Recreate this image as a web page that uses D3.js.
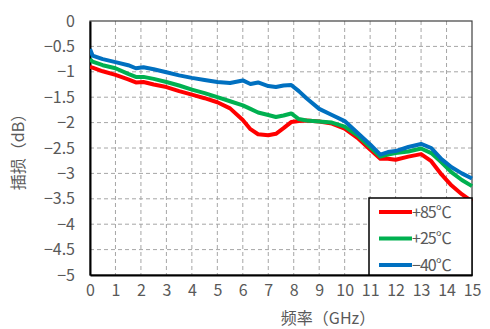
<!DOCTYPE html>
<html>
<head>
<meta charset="utf-8">
<script src="https://cdn.jsdelivr.net/npm/d3@7"></script>
<style>
  body { margin: 0; background: #fff; }
  text { font-family: "Noto Sans CJK JP", "Noto Sans CJK SC", sans-serif; fill: #595959; }
</style>
</head>
<body>
<svg id="chart"></svg>
<script>
// frequency points (GHz)
const freq = [0, 0.1, 0.5, 1, 1.5, 1.8, 2.1, 2.5, 3, 3.5, 4, 4.5, 5, 5.5, 6, 6.3, 6.6, 7, 7.3, 7.6,
  7.9, 8.2, 8.5, 9, 9.5, 10, 10.5, 11, 11.4, 11.7, 12, 12.5, 13, 13.4, 13.8, 14.2, 14.6, 15];

// insertion loss (dB) per temperature
const loss85 = [-0.9, -0.92, -0.99, -1.06, -1.15, -1.21, -1.2, -1.25, -1.3, -1.38, -1.45, -1.52, -1.6, -1.72,
  -1.95, -2.13, -2.23, -2.25, -2.22, -2.11, -1.99, -1.97, -1.96, -1.98, -2.02, -2.12, -2.3, -2.53, -2.71,
  -2.71, -2.73, -2.67, -2.62, -2.76, -3.02, -3.24, -3.41, -3.55];
const loss25 = [-0.75, -0.8, -0.87, -0.93, -1.04, -1.1, -1.1, -1.14, -1.2, -1.27, -1.35, -1.42, -1.5, -1.58,
  -1.66, -1.73, -1.8, -1.85, -1.89, -1.86, -1.82, -1.93, -1.96, -1.98, -2.0, -2.08, -2.25, -2.48, -2.67,
  -2.63, -2.6, -2.57, -2.51, -2.6, -2.78, -2.98, -3.13, -3.25];
const lossM40 = [-0.55, -0.68, -0.75, -0.81, -0.87, -0.93, -0.91, -0.95, -1.01, -1.07, -1.12, -1.16, -1.2, -1.22,
  -1.17, -1.24, -1.21, -1.28, -1.3, -1.27, -1.26, -1.38, -1.52, -1.73, -1.85, -1.97, -2.2, -2.43, -2.63,
  -2.58, -2.56, -2.48, -2.42, -2.5, -2.72, -2.88, -3.0, -3.1];

const seriesNames = ["+85℃", "+25℃", "−40℃"];
const seriesColors = ["#ff0000", "#00b050", "#0070c0"];
const xTicks = d3.range(0, 16, 1);
const yTicks = d3.range(0, -5.01, -0.5);

const W = 490, H = 329;
const margin = {top: 21, right: 18, bottom: 54, left: 90};

const svg = d3.select("#chart").attr("width", W).attr("height", H);

const x = d3.scaleLinear().domain([0, 15]).range([margin.left, W - margin.right]);
const y = d3.scaleLinear().domain([-5, 0]).range([H - margin.bottom, margin.top]);

// grid
svg.append("g").selectAll("line.vx")
    .data(xTicks.slice(1, -1))
  .enter().append("line")
    .attr("x1", d => x(d)).attr("x2", d => x(d))
    .attr("y1", y(0)).attr("y2", y(-5))
    .attr("stroke", "#a6a6a6").attr("stroke-dasharray", "4,3");

svg.append("g").selectAll("line.hy")
    .data(yTicks.slice(1, -1))
  .enter().append("line")
    .attr("x1", x(0)).attr("x2", x(15))
    .attr("y1", d => y(d)).attr("y2", d => y(d))
    .attr("stroke", "#a6a6a6").attr("stroke-dasharray", "4,3");

// frame: top/right thin, left/bottom axis
svg.append("rect")
    .attr("x", x(0)).attr("y", y(0))
    .attr("width", x(15) - x(0)).attr("height", y(-5) - y(0))
    .attr("fill", "none").attr("stroke", "#404040").attr("stroke-width", 1.2);

// axes
const xAxis = svg.append("g")
    .attr("transform", "translate(0," + y(-5) + ")")
    .call(d3.axisBottom(x).tickValues(xTicks).tickSize(0).tickPadding(10).tickFormat(d3.format("d")));
const yAxis = svg.append("g")
    .attr("transform", "translate(" + x(0) + ",0)")
    .call(d3.axisLeft(y).tickValues(yTicks).tickSize(0).tickPadding(15)
      .tickFormat(d => d === 0 ? "0" : "−" + Math.abs(d)));

[xAxis, yAxis].forEach(a => {
  a.select(".domain").attr("stroke", "#000").attr("stroke-width", 2);
  a.selectAll("text").style("font-size", "16px").attr("fill", "#595959");
});

// lines
const clip = svg.append("clipPath").attr("id", "plot-clip")
  .append("rect")
    .attr("x", x(0)).attr("y", y(0) - 5)
    .attr("width", x(15) - x(0) + 2).attr("height", y(-5) - y(0) + 5);

const line = d3.line().x(d => x(d[0])).y(d => y(d[1]));
const allSeries = [loss85, loss25, lossM40];

svg.append("g").attr("clip-path", "url(#plot-clip)")
  .selectAll("path")
    .data(allSeries)
  .enter().append("path")
    .attr("fill", "none")
    .attr("stroke", (d, i) => seriesColors[i])
    .attr("stroke-width", 4)
    .attr("stroke-linejoin", "round")
    .attr("d", d => line(d.map((v, i) => [freq[i], v])));

// legend
const lg = svg.append("g");
lg.append("rect")
    .attr("x", 369).attr("y", 198)
    .attr("width", x(15) - 369).attr("height", y(-5) - 198)
    .attr("fill", "#fff").attr("stroke", "#000").attr("stroke-width", 1.5);

const item = lg.selectAll("g.item")
    .data(seriesNames)
  .enter().append("g")
    .attr("transform", (d, i) => "translate(379," + (212 + i * 26.5) + ")");
item.append("line")
    .attr("x1", 0).attr("x2", 33)
    .attr("stroke", (d, i) => seriesColors[i]).attr("stroke-width", 4);
item.append("text")
    .attr("x", 33).attr("dy", "0.35em")
    .style("font-size", "16px").style("letter-spacing", "-1px")
    .text(d => d);

// axis titles
svg.append("text")
    .attr("x", 328).attr("y", 318)
    .attr("text-anchor", "middle").attr("dy", "0.35em")
    .style("font-size", "16px")
    .text("频率（GHz）");

svg.append("text")
    .attr("transform", "translate(18,148) rotate(-90)")
    .attr("text-anchor", "middle").attr("dy", "0.35em")
    .style("font-size", "16px")
    .text("插损（dB）");
</script>
</body>
</html>
